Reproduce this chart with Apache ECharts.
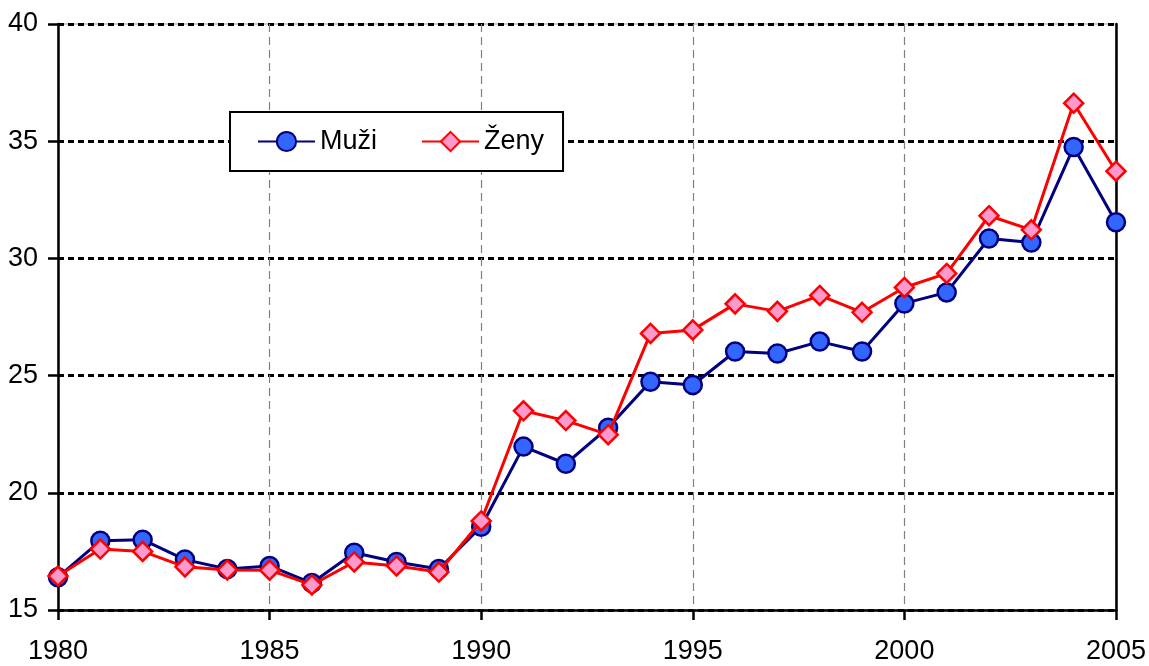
<!DOCTYPE html>
<html>
<head>
<meta charset="utf-8">
<script src="https://cdn.jsdelivr.net/npm/echarts@6/dist/echarts.min.js"></script>
<style>
html,body{margin:0;padding:0;background:#fff;}
#c{width:1149px;height:666px;}
</style>
</head>
<body>
<div id="c"></div>
<script>
const years = [1980,1981,1982,1983,1984,1985,1986,1987,1988,1989,1990,1991,1992,1993,1994,1995,1996,1997,1998,1999,2000,2001,2002,2003,2004,2005];
const muzi = [16.4,17.95,18.0,17.15,16.75,16.88,16.15,17.44,17.05,16.75,18.55,21.97,21.24,22.78,24.74,24.6,26.03,25.94,26.45,26.03,28.08,28.55,30.85,30.68,34.75,31.54];
const zeny = [16.45,17.6,17.5,16.84,16.71,16.7,16.07,17.05,16.88,16.62,18.8,23.5,23.08,22.48,26.8,26.95,28.06,27.74,28.42,27.7,28.76,29.36,31.82,31.22,36.62,33.72];
const seriesNames = ['Muži','Ženy'];

const FONT = '"Liberation Sans Narrow","Liberation Sans",Arial,sans-serif';
const chart = echarts.init(document.getElementById('c'), null, {renderer:'canvas'});
chart.setOption({
  animation:false,
  backgroundColor:'#fff',
  grid:{left:58,right:28,top:24,bottom:56,show:true,borderColor:'#999',borderWidth:1,backgroundColor:'transparent'},
  legend:{
    left:230, top:112,
    orient:'horizontal',
    padding:[16,19,16,27],
    itemGap:44,
    itemWidth:57, itemHeight:24,
    borderColor:'#000', borderWidth:2,
    backgroundColor:'#fff',
    textStyle:{fontFamily:FONT,fontSize:27,color:'#000'},
    data:seriesNames
  },
  xAxis:{
    type:'value', min:1980, max:2005, interval:5,
    axisLine:{show:true,onZero:false,lineStyle:{color:'#000',width:2.5}},
    axisTick:{show:true,length:10,lineStyle:{color:'#000',width:2.5}},
    axisLabel:{fontFamily:FONT,fontSize:27,color:'#000',margin:28,formatter:v=>String(v)},
    splitLine:{show:true,lineStyle:{color:'#808080',width:1.2,type:[8,5]}}
  },
  yAxis:[{
    type:'value', min:15, max:40, interval:5,
    axisLine:{show:true,lineStyle:{color:'#000',width:2.5}},
    axisTick:{show:true,length:10,lineStyle:{color:'#000',width:2.5}},
    axisLabel:{fontFamily:FONT,fontSize:27,color:'#000',margin:20},
    splitLine:{show:true,lineStyle:{color:'#000',width:3,type:[6,4]}}
  },{
    type:'value', min:15, max:40, interval:5, position:'right',
    axisLine:{show:true,lineStyle:{color:'#000',width:2.5}},
    axisTick:{show:false}, axisLabel:{show:false}, splitLine:{show:false}
  }],
  series:[{
    name:seriesNames[0], type:'line',
    data:years.map((y,i)=>[y,muzi[i]]),
    symbol:'circle', symbolSize:18,
    lineStyle:{color:'#000080',width:3},
    itemStyle:{color:'#3366FF',borderColor:'#000080',borderWidth:2.5},
    z:3
  },{
    name:seriesNames[1], type:'line',
    data:years.map((y,i)=>[y,zeny[i]]),
    symbol:'diamond', symbolSize:[19,19],
    lineStyle:{color:'#FF0000',width:3},
    itemStyle:{color:'#FF99CC',borderColor:'#FF0000',borderWidth:2.5},
    z:4
  }]
});
</script>
</body>
</html>
